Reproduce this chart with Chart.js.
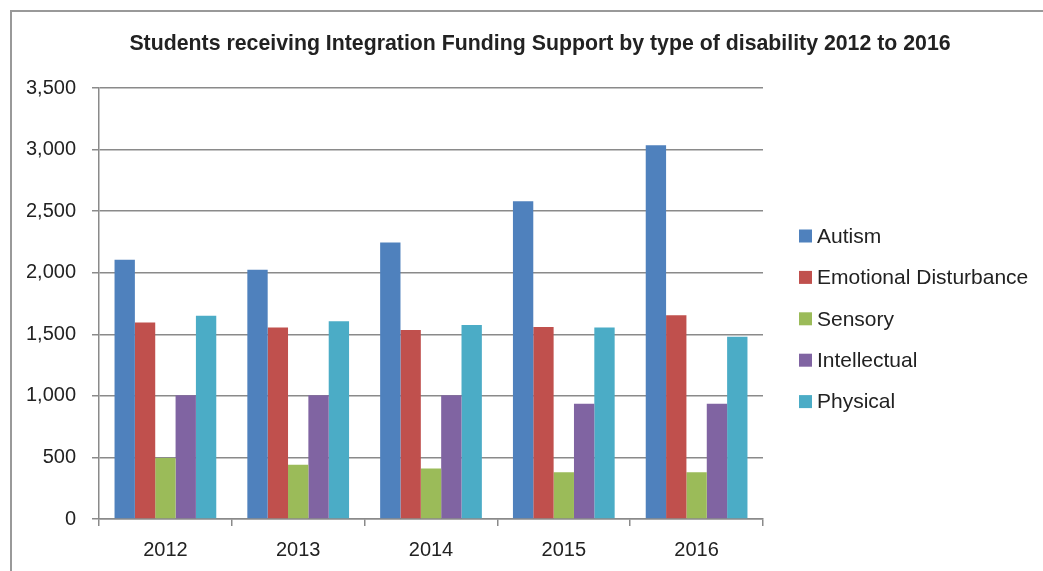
<!DOCTYPE html>
<html><head><meta charset="utf-8">
<script src="https://cdn.jsdelivr.net/npm/chart.js@4"></script>
<style>html,body{margin:0;padding:0;background:#fff}#wrap{position:relative;width:1043px;height:571px}</style>
</head><body><div id="wrap"><canvas id="c" width="1043" height="571"></canvas></div>
<script>
const categories = ['2012', '2013', '2014', '2015', '2016'];
const autism = [2105, 2025, 2245, 2580, 3035];
const emotional = [1595, 1555, 1535, 1560, 1655];
const sensory = [495, 440, 410, 380, 380];
const intellectual = [1005, 1005, 1005, 935, 935];
const physical = [1650, 1605, 1575, 1555, 1480];
const seriesNames = ['Autism', 'Emotional Disturbance', 'Sensory', 'Intellectual', 'Physical'];
const seriesColors = ['#4F81BD', '#C0504D', '#9BBB59', '#8064A2', '#4BACC6'];
const titleText = 'Students receiving Integration Funding Support by type of disability 2012 to 2016';
const yMin = 0, yMax = 3500, yStep = 500;

const FONT = "'Liberation Sans', Arial, sans-serif";
const TEXT = '#222';
const GRID = '#8a8a8a';

const seriesValues = [autism, emotional, sensory, intellectual, physical];
const datasets = seriesNames.map((n, i) => ({
  label: n, data: seriesValues[i], backgroundColor: seriesColors[i], borderWidth: 0,
  categoryPercentage: 0.766, barPercentage: 1.0
}));

const decor = {
  id: 'decor',
  beforeDraw(chart) {
    const ctx = chart.ctx;
    ctx.save();
    ctx.fillStyle = '#fff';
    ctx.fillRect(0, 0, chart.width, chart.height);
    ctx.strokeStyle = '#999';
    ctx.lineWidth = 2;
    ctx.beginPath();
    ctx.moveTo(11, chart.height + 2);
    ctx.lineTo(11, 11);
    ctx.lineTo(chart.width + 2, 11);
    ctx.stroke();
    ctx.restore();
  },
  afterDraw(chart) {
    const ctx = chart.ctx;
    ctx.save();
    ctx.fillStyle = TEXT;
    ctx.font = 'bold 21.3px ' + FONT;
    ctx.textAlign = 'center';
    ctx.textBaseline = 'middle';
    ctx.fillText(titleText, 540, 44);
    ctx.font = '21px ' + FONT;
    ctx.textAlign = 'left';
    chart.data.datasets.forEach((ds, i) => {
      const y = 236 + i * 41.4;
      ctx.fillStyle = ds.backgroundColor;
      ctx.fillRect(799, y - 6.5, 13, 13);
      ctx.fillStyle = TEXT;
      ctx.fillText(ds.label, 817, y + 1);
    });
    ctx.restore();
  }
};

new Chart(document.getElementById('c'), {
  type: 'bar',
  data: { labels: categories, datasets },
  plugins: [decor],
  options: {
    responsive: false,
    animation: false,
    devicePixelRatio: 1,
    layout: { padding: { left: 0, right: 280, top: 88, bottom: 0 } },
    plugins: { legend: { display: false }, title: { display: false }, tooltip: { enabled: false } },
    scales: {
      x: {
        grid: { display: true, drawOnChartArea: false, drawTicks: true, tickLength: 7, color: GRID, lineWidth: 1.5 },
        border: { display: true, color: GRID, width: 1.5 },
        ticks: { color: TEXT, font: { family: FONT, size: 20 }, padding: 12, maxRotation: 0 },
        afterFit(s) { s.height = 52; }
      },
      y: {
        min: yMin, max: yMax,
        grid: { color: GRID, lineWidth: 1.5, tickLength: 7, drawTicks: true },
        border: { display: true, color: GRID, width: 1.5 },
        ticks: { stepSize: yStep, color: TEXT, font: { family: FONT, size: 20 }, padding: 16,
          callback: v => v.toLocaleString('en-US') },
        afterFit(s) { s.width = 99; }
      }
    }
  }
});
</script></body></html>
